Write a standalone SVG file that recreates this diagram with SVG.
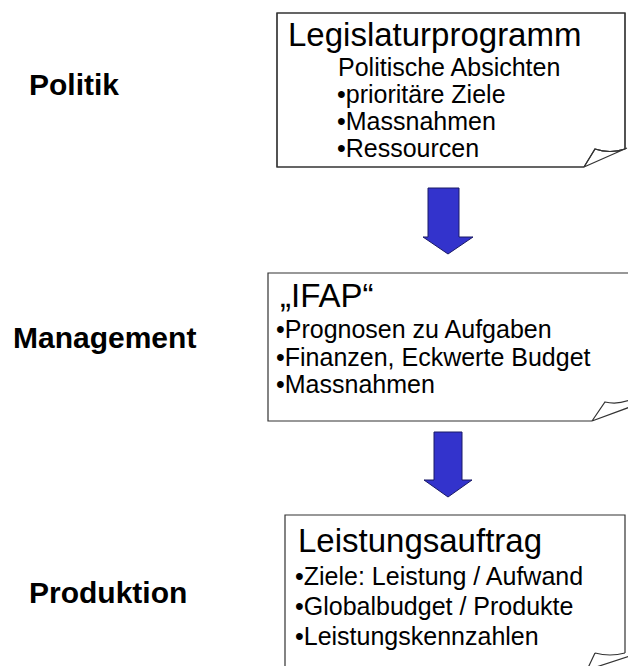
<svg xmlns="http://www.w3.org/2000/svg" width="628" height="666" viewBox="0 0 628 666">
<style>
  .box { fill: #ffffff; stroke: #333333; stroke-width: 1.2; }
  .edge { fill: none; stroke: #333333; stroke-width: 1.2; }
  .title { font-family: "Liberation Sans", Arial, sans-serif; font-size: 33px; fill: #000; }
  .item { font-family: "Liberation Sans", Arial, sans-serif; font-size: 25px; fill: #000; }
  .level { font-family: "Liberation Sans", Arial, sans-serif; font-size: 30px; font-weight: bold; fill: #000; }
  .arrow { fill: #3333cc; stroke: #1a1a66; stroke-width: 1; }
</style>
<rect width="628" height="666" fill="#ffffff"/>

<g id="label-politik"><text class="level" x="29" y="95">Politik</text></g>
<g id="label-management"><text class="level" x="13" y="348">Management</text></g>
<g id="label-produktion"><text class="level" x="29" y="603">Produktion</text></g>

<g id="node-legislaturprogramm">
  <path class="box" d="M625,149 V13 H277 V167 H584 L595,149 Q610,154 625,149 Z" stroke="none"/>
  <path class="edge" d="M625,149 V13 H277 V167 H584"/>
  <path class="edge" d="M584,167 L595,149 Q610,154 625,149 M584,167 L627,148"/>
  <text class="title" x="288" y="46">Legislaturprogramm</text>
  <text class="item" x="338" y="76">Politische Absichten</text>
  <text class="item" x="337" y="103">•prioritäre Ziele</text>
  <text class="item" x="337" y="130">•Massnahmen</text>
  <text class="item" x="337" y="157">•Ressourcen</text>
</g>

<g id="node-ifap">
  <path class="edge" d="M630,273 H268 V421 H592"/>
  <path class="edge" d="M592,421 L605,402 Q617,405 630,400 M592,421 L630,407"/>
  <text class="title" x="280" y="307">„IFAP“</text>
  <text class="item" x="276" y="338">•Prognosen zu Aufgaben</text>
  <text class="item" x="276" y="366">•Finanzen, Eckwerte Budget</text>
  <text class="item" x="276" y="393">•Massnahmen</text>
</g>

<g id="node-leistungsauftrag">
  <path class="edge" d="M625,653 V515 H285 V670"/>
  <path class="edge" d="M595,653 Q610,657 625,653 M595,653 L587,670 M587,670 L630,656"/>
  <text class="title" x="298" y="552">Leistungsauftrag</text>
  <text class="item" x="295" y="585">•Ziele: Leistung / Aufwand</text>
  <text class="item" x="295" y="615">•Globalbudget / Produkte</text>
  <text class="item" x="295" y="645">•Leistungskennzahlen</text>
</g>

<g id="connectors">
  <path class="arrow" d="M428,188 H459 V237 H473 L448,254 L423,237 H428 Z"/>
  <path class="arrow" d="M434,432 H462 V480 H472 L448,497 L424,480 H434 Z"/>
</g>
</svg>
